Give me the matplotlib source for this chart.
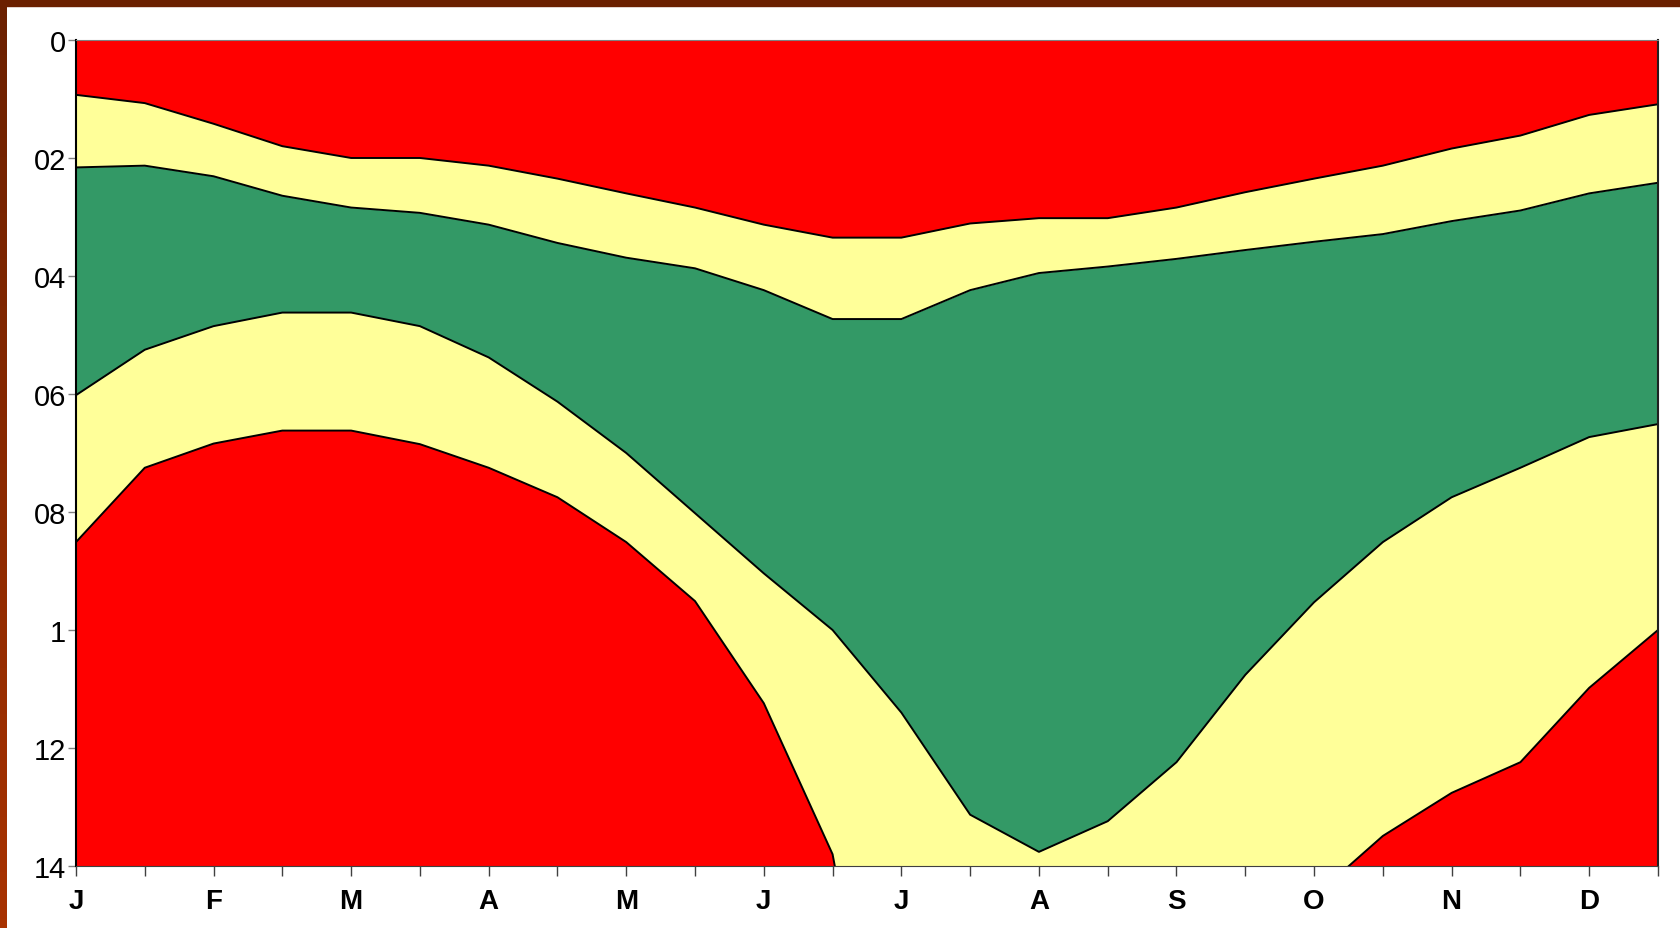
import numpy as np
import matplotlib.pyplot as plt
from matplotlib.patches import Rectangle

# half-month steps, Jan .. Dec (24 points)
months = ["J", "F", "M", "A", "M", "J", "J", "A", "S", "O", "N", "D"]
ytick_vals = [0, 0.2, 0.4, 0.6, 0.8, 1.0, 1.2, 1.4]
ytick_labels = ["0", "02", "04", "06", "08", "1", "12", "14"]

# boundary depths between the bands (top to bottom)
red_yellow_top = [0.093, 0.107, 0.142, 0.180, 0.200, 0.200, 0.213, 0.235,
                  0.260, 0.284, 0.313, 0.335, 0.335, 0.311, 0.302, 0.302,
                  0.284, 0.258, 0.235, 0.213, 0.184, 0.162, 0.127, 0.109]
yellow_green = [0.216, 0.213, 0.231, 0.264, 0.284, 0.293, 0.313, 0.344,
                0.369, 0.387, 0.424, 0.473, 0.473, 0.424, 0.395, 0.384,
                0.371, 0.356, 0.342, 0.329, 0.307, 0.289, 0.260, 0.242]
green_yellow = [0.602, 0.525, 0.485, 0.462, 0.462, 0.485, 0.538, 0.613,
                0.700, 0.802, 0.904, 1.000, 1.140, 1.313, 1.376, 1.324,
                1.224, 1.076, 0.953, 0.851, 0.775, 0.725, 0.673, 0.651]
yellow_red_bottom = [0.851, 0.725, 0.684, 0.662, 0.662, 0.685, 0.725, 0.775,
                     0.851, 0.951, 1.124, 1.380, 2.000, 2.000, 2.000, 2.000,
                     2.000, 2.000, 1.452, 1.349, 1.276, 1.224, 1.098, 1.000]

RED = "#FF0000"
YELLOW = "#FFFF99"
GREEN = "#339966"

plt.rcParams["font.family"] = ["Liberation Sans", "DejaVu Sans"]

fig = plt.figure(figsize=(16.81, 9.29), dpi=100)
ax = fig.add_axes([0.0452, 0.0667, 0.9411, 0.8892])

x = np.arange(len(red_yellow_top))
ax.fill_between(x, 0, red_yellow_top, color=RED, lw=0)
ax.fill_between(x, red_yellow_top, yellow_green, color=YELLOW, lw=0)
ax.fill_between(x, yellow_green, green_yellow, color=GREEN, lw=0)
ax.fill_between(x, green_yellow, yellow_red_bottom, color=YELLOW, lw=0)
ax.fill_between(x, yellow_red_bottom, 3, color=RED, lw=0)
for b in (red_yellow_top, yellow_green, green_yellow, yellow_red_bottom):
    ax.plot(x, b, color="black", lw=1.4)

ax.set_xlim(0, len(x) - 1)
ax.set_ylim(1.4, 0)

ax.set_yticks(ytick_vals)
ax.set_yticklabels(ytick_labels, fontsize=21)
ax.set_xticks(x)
ax.set_xticklabels([months[i // 2] if i % 2 == 0 else "" for i in x],
                   fontsize=20, fontweight="bold")
ax.tick_params(axis="y", length=6, width=1, color="#808080", pad=1)
ax.tick_params(axis="x", length=7, width=1, color="#404040", pad=9)

ax.spines["left"].set_color("black")
ax.spines["left"].set_linewidth(1.5)
ax.spines["bottom"].set_color("#404040")
ax.spines["top"].set_color("#808080")
ax.spines["right"].set_color("#202020")
ax.spines["right"].set_linewidth(1.5)

# brown frame on top and left edges
fig.patches.append(Rectangle((0, 1 - 7 / 929), 1, 7 / 929, transform=fig.transFigure,
                             color="#6B2000", zorder=5))
band = fig.add_axes([0, 0, 7 / 1681, 1])
grad = np.linspace(0, 1, 100).reshape(-1, 1)
band.imshow(grad, aspect="auto", cmap=plt.matplotlib.colors.LinearSegmentedColormap.from_list(
    "brown", ["#A83200", "#6B2000"]), origin="lower")
band.axis("off")

fig.savefig("out.png", dpi=100)
